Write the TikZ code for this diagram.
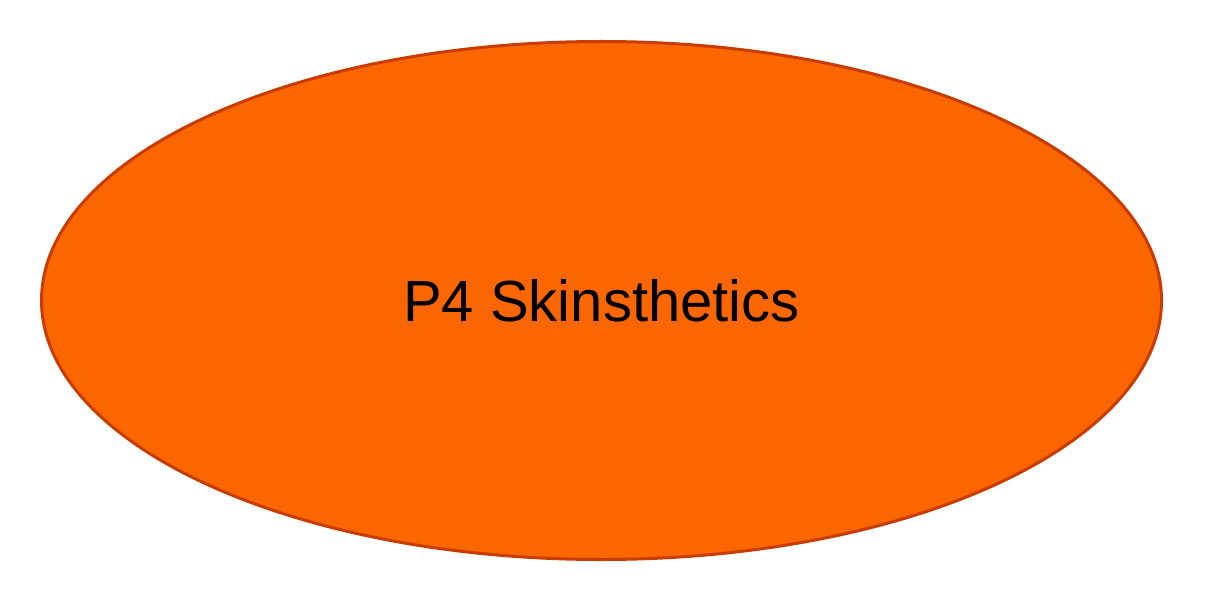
\documentclass[tikz,border=0pt]{standalone}
\usepackage{fontspec}
\setmainfont{Liberation Sans}
\usetikzlibrary{shapes.geometric}

\definecolor{skinfill}{HTML}{FB6600}
\definecolor{skinline}{HTML}{C83C00}

\tikzset{
  bubble/.style={ellipse, draw=skinline, fill=skinfill, line width=1.5pt,
    minimum width=560pt, minimum height=259pt, inner sep=0pt,
    font=\fontsize{29}{34}\selectfont}
}

\begin{document}
\begin{tikzpicture}[x=0.5pt,y=-0.5pt]

\useasboundingbox (0,0) rectangle (1208,604);

\node[bubble] (skin) at (601.5,300.5) {P4 Skinsthetics};

\end{tikzpicture}
\end{document}
